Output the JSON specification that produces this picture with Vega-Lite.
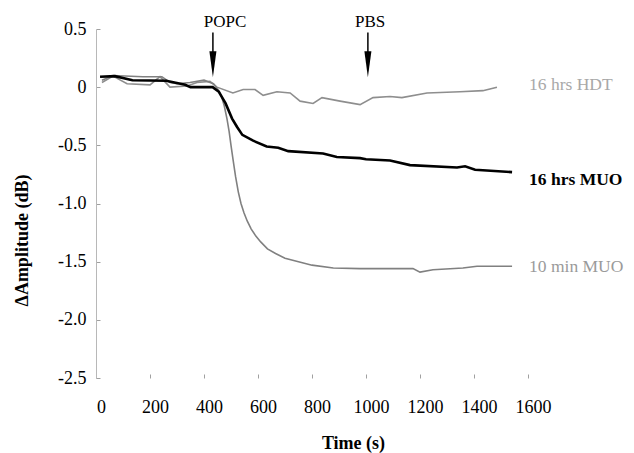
{
  "$schema": "https://vega.github.io/schema/vega-lite/v6.json",
  "autosize": "none",
  "width": 432,
  "height": 349,
  "padding": {"left": 96, "top": 29, "right": 106, "bottom": 75},
  "background": "white",
  "config": {
    "view": {"stroke": null},
    "font": "Liberation Serif",
    "axis": {"labelFont": "Liberation Serif", "titleFont": "Liberation Serif", "labelColor": "black", "titleColor": "black", "grid": false, "domainColor": "#b8b8b8", "tickColor": "#a0a0a0", "labelFontSize": 18, "titleFontSize": 18, "titleFontWeight": "bold"}
  },
  "datasets": {
    "curves": [
      {"series": "16 hrs MUO", "t": 15, "amp": 0.09},
      {"series": "16 hrs MUO", "t": 70, "amp": 0.095},
      {"series": "16 hrs MUO", "t": 135, "amp": 0.06},
      {"series": "16 hrs MUO", "t": 260, "amp": 0.055},
      {"series": "16 hrs MUO", "t": 330, "amp": 0.02},
      {"series": "16 hrs MUO", "t": 350, "amp": 0.0},
      {"series": "16 hrs MUO", "t": 432, "amp": 0.0},
      {"series": "16 hrs MUO", "t": 455, "amp": -0.04},
      {"series": "16 hrs MUO", "t": 480, "amp": -0.14},
      {"series": "16 hrs MUO", "t": 504, "amp": -0.27},
      {"series": "16 hrs MUO", "t": 522, "amp": -0.34},
      {"series": "16 hrs MUO", "t": 542, "amp": -0.41},
      {"series": "16 hrs MUO", "t": 582, "amp": -0.46},
      {"series": "16 hrs MUO", "t": 632, "amp": -0.51},
      {"series": "16 hrs MUO", "t": 675, "amp": -0.52},
      {"series": "16 hrs MUO", "t": 712, "amp": -0.55},
      {"series": "16 hrs MUO", "t": 841, "amp": -0.57},
      {"series": "16 hrs MUO", "t": 892, "amp": -0.6},
      {"series": "16 hrs MUO", "t": 978, "amp": -0.61},
      {"series": "16 hrs MUO", "t": 1000, "amp": -0.62},
      {"series": "16 hrs MUO", "t": 1089, "amp": -0.63},
      {"series": "16 hrs MUO", "t": 1163, "amp": -0.67},
      {"series": "16 hrs MUO", "t": 1337, "amp": -0.69},
      {"series": "16 hrs MUO", "t": 1367, "amp": -0.68},
      {"series": "16 hrs MUO", "t": 1404, "amp": -0.71},
      {"series": "16 hrs MUO", "t": 1541, "amp": -0.73},
      {"series": "16 hrs HDT", "t": 22, "amp": 0.04},
      {"series": "16 hrs HDT", "t": 63, "amp": 0.095},
      {"series": "16 hrs HDT", "t": 115, "amp": 0.03},
      {"series": "16 hrs HDT", "t": 200, "amp": 0.02},
      {"series": "16 hrs HDT", "t": 237, "amp": 0.09},
      {"series": "16 hrs HDT", "t": 274, "amp": 0.0},
      {"series": "16 hrs HDT", "t": 337, "amp": 0.01},
      {"series": "16 hrs HDT", "t": 374, "amp": 0.04},
      {"series": "16 hrs HDT", "t": 422, "amp": 0.05},
      {"series": "16 hrs HDT", "t": 448, "amp": 0.0},
      {"series": "16 hrs HDT", "t": 507, "amp": -0.05},
      {"series": "16 hrs HDT", "t": 545, "amp": -0.02},
      {"series": "16 hrs HDT", "t": 589, "amp": -0.02},
      {"series": "16 hrs HDT", "t": 619, "amp": -0.07},
      {"series": "16 hrs HDT", "t": 670, "amp": -0.04},
      {"series": "16 hrs HDT", "t": 719, "amp": -0.05},
      {"series": "16 hrs HDT", "t": 756, "amp": -0.12},
      {"series": "16 hrs HDT", "t": 804, "amp": -0.14},
      {"series": "16 hrs HDT", "t": 837, "amp": -0.09},
      {"series": "16 hrs HDT", "t": 904, "amp": -0.12},
      {"series": "16 hrs HDT", "t": 978, "amp": -0.15},
      {"series": "16 hrs HDT", "t": 1026, "amp": -0.09},
      {"series": "16 hrs HDT", "t": 1089, "amp": -0.08},
      {"series": "16 hrs HDT", "t": 1133, "amp": -0.09},
      {"series": "16 hrs HDT", "t": 1226, "amp": -0.05},
      {"series": "16 hrs HDT", "t": 1348, "amp": -0.04},
      {"series": "16 hrs HDT", "t": 1433, "amp": -0.03},
      {"series": "16 hrs HDT", "t": 1485, "amp": 0.0},
      {"series": "10 min MUO", "t": 22, "amp": 0.06},
      {"series": "10 min MUO", "t": 63, "amp": 0.1},
      {"series": "10 min MUO", "t": 174, "amp": 0.09},
      {"series": "10 min MUO", "t": 244, "amp": 0.09},
      {"series": "10 min MUO", "t": 274, "amp": 0.04},
      {"series": "10 min MUO", "t": 300, "amp": 0.03},
      {"series": "10 min MUO", "t": 348, "amp": 0.04},
      {"series": "10 min MUO", "t": 400, "amp": 0.06},
      {"series": "10 min MUO", "t": 435, "amp": 0.03},
      {"series": "10 min MUO", "t": 455, "amp": -0.03},
      {"series": "10 min MUO", "t": 465, "amp": -0.08},
      {"series": "10 min MUO", "t": 475, "amp": -0.16},
      {"series": "10 min MUO", "t": 485, "amp": -0.27},
      {"series": "10 min MUO", "t": 493, "amp": -0.38},
      {"series": "10 min MUO", "t": 500, "amp": -0.5},
      {"series": "10 min MUO", "t": 508, "amp": -0.63},
      {"series": "10 min MUO", "t": 517, "amp": -0.77},
      {"series": "10 min MUO", "t": 527, "amp": -0.9},
      {"series": "10 min MUO", "t": 537, "amp": -1.0},
      {"series": "10 min MUO", "t": 548, "amp": -1.08},
      {"series": "10 min MUO", "t": 560, "amp": -1.15},
      {"series": "10 min MUO", "t": 575, "amp": -1.22},
      {"series": "10 min MUO", "t": 592, "amp": -1.28},
      {"series": "10 min MUO", "t": 610, "amp": -1.33},
      {"series": "10 min MUO", "t": 635, "amp": -1.39},
      {"series": "10 min MUO", "t": 665, "amp": -1.43},
      {"series": "10 min MUO", "t": 700, "amp": -1.47},
      {"series": "10 min MUO", "t": 750, "amp": -1.5},
      {"series": "10 min MUO", "t": 800, "amp": -1.53},
      {"series": "10 min MUO", "t": 879, "amp": -1.555},
      {"series": "10 min MUO", "t": 978, "amp": -1.56},
      {"series": "10 min MUO", "t": 1174, "amp": -1.56},
      {"series": "10 min MUO", "t": 1200, "amp": -1.59},
      {"series": "10 min MUO", "t": 1248, "amp": -1.57},
      {"series": "10 min MUO", "t": 1359, "amp": -1.555},
      {"series": "10 min MUO", "t": 1411, "amp": -1.54},
      {"series": "10 min MUO", "t": 1541, "amp": -1.54}
    ],
    "events": [
      {"event": "POPC", "t": 433, "label_t": 478},
      {"event": "PBS", "t": 1007, "label_t": 1015}
    ],
    "labels": [
      {"series": "16 hrs HDT", "t": 1604, "amp": 0.017},
      {"series": "16 hrs MUO", "t": 1604, "amp": -0.8},
      {"series": "10 min MUO", "t": 1604, "amp": -1.546}
    ]
  },
  "layer": [
    {
      "mark": {"type": "rule", "color": "#b8b8b8", "strokeWidth": 1},
      "encoding": {
        "x": {"datum": 0, "type": "quantitative"},
        "x2": {"datum": 1400},
        "y": {"datum": -2.5, "type": "quantitative"}
      }
    },
    {
      "data": {"name": "curves"},
      "transform": [{"filter": "datum.series != '16 hrs MUO'"}],
      "mark": {"type": "line", "strokeWidth": 1.6},
      "encoding": {
        "x": {
          "field": "t", "type": "quantitative",
          "scale": {"domain": [0, 1600], "nice": false},
          "axis": {"values": [0, 200, 400, 600, 800, 1000, 1200, 1400, 1600], "format": "d", "title": "Time (s)", "domain": false, "tickSize": -4, "labelPadding": 24, "labelOffset": 5, "titleX": 257, "titleY": 56, "titleBaseline": "top", "titleAlign": "center", "labelFlush": false}
        },
        "y": {
          "field": "amp", "type": "quantitative",
          "scale": {"domain": [-2.5, 0.5], "nice": false, "zero": false},
          "axis": {"values": [-2.5, -2, -1.5, -1, -0.5, 0, 0.5], "title": "ΔAmplitude (dB)", "tickSize": -4, "labelPadding": 14, "labelExpr": "datum.value == 0 ? '0' : replace(format(datum.value, '.1f'), '−', '-')", "titleX": -74, "titleY": 211, "titleAngle": -90, "titleAlign": "center", "titleBaseline": "middle", "labelFlush": false}
        },
        "color": {
          "field": "series", "type": "nominal", "legend": null,
          "scale": {"domain": ["16 hrs HDT", "10 min MUO"], "range": ["#8e8e8e", "#808080"]}
        }
      }
    },
    {
      "data": {"name": "curves"},
      "transform": [{"filter": "datum.series == '16 hrs MUO'"}],
      "mark": {"type": "line", "strokeWidth": 2.6, "color": "black"},
      "encoding": {
        "x": {"field": "t", "type": "quantitative"},
        "y": {"field": "amp", "type": "quantitative"}
      }
    },
    {
      "data": {"name": "events"},
      "mark": {"type": "rule", "color": "black", "strokeWidth": 1.5},
      "encoding": {
        "x": {"field": "t", "type": "quantitative"},
        "y": {"datum": 0.47, "type": "quantitative"},
        "y2": {"datum": 0.2}
      }
    },
    {
      "data": {"name": "events"},
      "mark": {"type": "point", "shape": "M-0.27,-1L0.27,-1L0,1Z", "filled": true, "color": "black", "size": 676, "opacity": 1},
      "encoding": {
        "x": {"field": "t", "type": "quantitative"},
        "y": {"datum": 0.198, "type": "quantitative"}
      }
    },
    {
      "data": {"name": "events"},
      "mark": {"type": "text", "fontSize": 17, "font": "Liberation Serif", "color": "black", "align": "center", "baseline": "middle"},
      "encoding": {
        "x": {"field": "label_t", "type": "quantitative"},
        "y": {"datum": 0.56, "type": "quantitative"},
        "text": {"field": "event"}
      }
    },
    {
      "data": {"name": "labels"},
      "transform": [{"filter": "datum.series != '16 hrs MUO'"}],
      "mark": {"type": "text", "fontSize": 17.5, "font": "Liberation Serif", "align": "left", "baseline": "middle"},
      "encoding": {
        "x": {"field": "t", "type": "quantitative"},
        "y": {"field": "amp", "type": "quantitative"},
        "text": {"field": "series"},
        "color": {
          "field": "series", "type": "nominal", "legend": null,
          "scale": {"domain": ["16 hrs HDT", "10 min MUO"], "range": ["#a8a8a8", "#9a9a9a"]}
        }
      }
    },
    {
      "data": {"name": "labels"},
      "transform": [{"filter": "datum.series == '16 hrs MUO'"}],
      "mark": {"type": "text", "fontSize": 17.5, "font": "Liberation Serif", "fontWeight": "bold", "color": "black", "align": "left", "baseline": "middle"},
      "encoding": {
        "x": {"field": "t", "type": "quantitative"},
        "y": {"field": "amp", "type": "quantitative"},
        "text": {"field": "series"}
      }
    }
  ],
  "resolve": {"scale": {"color": "independent"}}
}
